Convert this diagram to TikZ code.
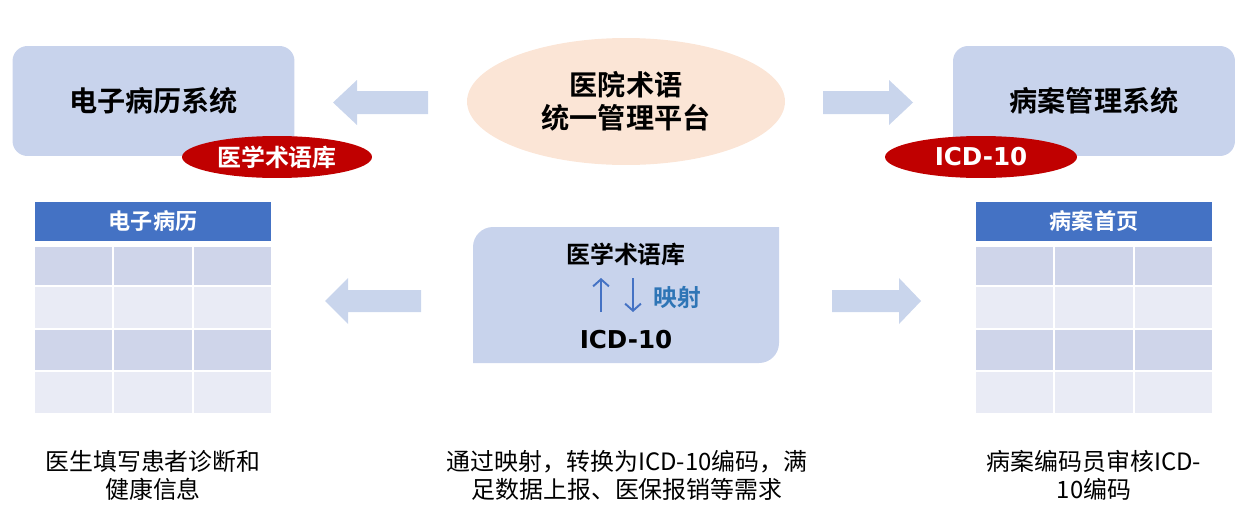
\documentclass[tikz,border=0pt]{standalone}
\usepackage{fontspec}
\setmainfont{Noto Sans CJK SC}[BoldFont={Noto Sans CJK SC Bold}]
\newfontfamily\icdfont{DejaVu Sans}
\usetikzlibrary{positioning, arrows.meta, shapes.geometric}
\definecolor{sysblue}{RGB}{200,211,236}
\definecolor{arrowblue}{RGB}{201,213,236}
\definecolor{peach}{RGB}{251,229,214}
\definecolor{tagred}{RGB}{192,0,0}
\definecolor{headblue}{RGB}{68,114,196}
\definecolor{rowdark}{RGB}{207,213,234}
\definecolor{rowlight}{RGB}{233,235,245}
\definecolor{mapblue}{RGB}{46,117,182}

\begin{document}
\begin{tikzpicture}[
  x=0.02cm, y=-0.02cm,
  sysbox/.style={fill=sysblue, rounded corners=0.3cm, minimum width=5.64cm, minimum height=2.2cm,
                 font=\fontsize{16}{19}\selectfont\bfseries},
  tag/.style={ellipse, fill=tagred, text=white, inner sep=0pt, minimum width=3.8cm, minimum height=0.84cm,
              font=\fontsize{13.6}{16}\selectfont\bfseries},
  tabhead/.style={fill=headblue, text=white, inner sep=0pt, minimum width=4.72cm, minimum height=0.78cm,
                  font=\fontsize{12.6}{15}\selectfont\bfseries},
  note/.style={align=center, font=\fontsize{13.6}{15.9}\selectfont},
  bigarrow/.style={fill=arrowblue},
  maparrow/.style={draw=headblue, line width=1.1pt, -{Straight Barb[length=4pt, width=9pt]}}
]
  \useasboundingbox (0,0) rectangle (1246,524);

  % top row
  \node[sysbox] (emr) at (153.5,101) {电子病历系统};
  \node[sysbox] (mrs) at (1094,101) {病案管理系统};
  \node[ellipse, fill=peach, inner sep=0pt, minimum width=6.36cm, minimum height=2.54cm, align=center,
        font=\fontsize{16}{18.8}\selectfont\bfseries] (platform) at (626,101.5) {医院术语\\统一管理平台};
  \node[tag] (emrtag) at (277,157) {医学术语库};
  \node[tag, minimum width=3.84cm, font=\fontsize{14}{16}\selectfont\icdfont\bfseries] (icdtag) at (981,157) {ICD-10};

  \fill[bigarrow] (333,102.5) -- (357,80) -- (357,91) -- (428,91) -- (428,114) -- (357,114) -- (357,125) -- cycle;
  \fill[bigarrow] (913,102.5) -- (889,80) -- (889,91) -- (823,91) -- (823,114) -- (889,114) -- (889,125) -- cycle;

  % tables
  \foreach \dx in {0,941} {
    \foreach \ya/\yb/\shade in {247/285/rowdark, 287/328/rowlight, 330/370/rowdark, 372/413/rowlight}
      \foreach \xa/\xb in {35/112, 114/192, 194/271}
        \fill[\shade] (\xa+\dx,\ya) rectangle (\xb+\dx,\yb);
  }
  \node[tabhead] (emrhead) at (153,221.5) {电子病历};
  \node[tabhead] (mrshead) at (1094,221.5) {病案首页};

  % mapping box
  \fill[sysblue] (473,300) [rounded corners=0.4cm] -- (473,227) -- (620,227) [sharp corners] -- (779,227)
    -- (779,300) [rounded corners=0.4cm] -- (779,363) -- (620,363) [sharp corners] -- (473,363) -- cycle;
  \node[font=\fontsize{13.6}{16}\selectfont\bfseries] (midlib) at (626,254) {医学术语库};
  \node[font=\fontsize{14}{16}\selectfont\icdfont\bfseries] (midicd) at (626,340) {ICD-10};
  \node[font=\fontsize{13.5}{16}\selectfont\bfseries, text=mapblue] (midmap) at (677,298) {映射};
  \coordinate (upa) at (601,312);
  \coordinate (upb) at (601,278);
  \coordinate (downa) at (633,278);
  \coordinate (downb) at (633,312);
  \draw[maparrow] (upa) -- (upb);
  \draw[maparrow] (downa) -- (downb);

  \fill[bigarrow] (325,301) -- (348,278) -- (348,290) -- (421,290) -- (421,312) -- (348,312) -- (348,324) -- cycle;
  \fill[bigarrow] (921,301) -- (899,278) -- (899,290) -- (832,290) -- (832,312) -- (899,312) -- (899,324) -- cycle;

  % notes
  \node[note] (emrnote) at (153,475) {医生填写患者诊断和\\健康信息};
  \node[note] (mapnote) at (627,475) {通过映射，转换为ICD-10编码，满\\足数据上报、医保报销等需求};
  \node[note] (mrsnote) at (1094,475) {病案编码员审核ICD-\\10编码};
\end{tikzpicture}
\end{document}
